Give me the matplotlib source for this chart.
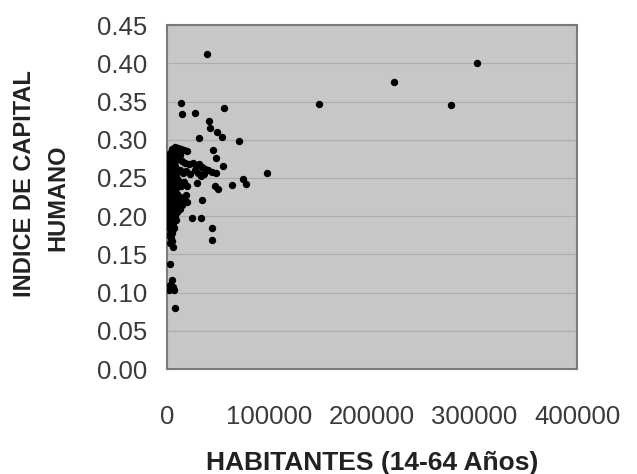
import matplotlib.pyplot as plt

plt.rcParams['font.family'] = ['Liberation Sans', 'DejaVu Sans']

# puntos aislados
x_out = [148600, 221500, 302700, 276800, 38700, 97300,
         13400, 14300, 27300, 55900, 41300, 42000, 48500, 53400, 31500, 70200,
         45200, 47800, 54900, 29000, 46800, 50000, 63100, 74400, 77100,
         33900, 24100, 32900, 44200, 44200, 47800]
y_out = [0.347, 0.375, 0.401, 0.345, 0.412, 0.256,
         0.348, 0.334, 0.335, 0.341, 0.325, 0.316, 0.310, 0.304, 0.302, 0.298,
         0.287, 0.276, 0.266, 0.244, 0.239, 0.236, 0.241, 0.248, 0.242,
         0.221, 0.198, 0.198, 0.185, 0.169, 0.256]

# nube densa cerca del origen
x_cl = [5000, 8000, 11000, 14000, 17000, 20000, 3000, 9500, 13000,
        2000, 4000, 6000, 9000, 12000, 15000, 18000, 22000, 25000, 28000, 31000, 34000, 37000, 40000,
        1500, 3500, 5500, 7500, 10000, 12500, 16000, 19000, 23000, 27000, 30000, 33000, 36000, 44000,
        2000, 4000, 6500, 8500, 11000, 13500, 17000, 20000, 1000, 3000, 5000, 7000, 9500,
        1500, 3500, 5500, 7500, 10000, 13000, 16000, 18500, 2500, 4500, 6500, 8500, 11500, 14500, 20000,
        1500, 3500, 5500, 7500, 10000, 12500, 2500, 4500, 6500, 8500, 3500, 6000,
        3000, 5000, 4000, 3000, 5500,
        2900, 4600, 3500, 5500, 2500, 6500, 7800,
        # relleno de la columna densa
        2500, 5000, 7500, 4000, 6500, 2000, 9000, 3500, 6000, 8000,
        2500, 5000, 7000, 4000, 1500, 6000, 3000, 5000, 7500, 4500,
        2000, 3500, 6500, 4500, 2500, 5000]
y_cl = [0.288, 0.290, 0.289, 0.288, 0.287, 0.285, 0.283, 0.283, 0.280,
        0.278, 0.275, 0.277, 0.274, 0.276, 0.272, 0.270, 0.268, 0.270, 0.266, 0.268, 0.264, 0.262, 0.260,
        0.265, 0.262, 0.260, 0.263, 0.258, 0.261, 0.256, 0.259, 0.255, 0.260, 0.257, 0.252, 0.255, 0.258,
        0.248, 0.245, 0.250, 0.244, 0.247, 0.240, 0.245, 0.240, 0.238, 0.236, 0.240, 0.235, 0.238,
        0.232, 0.228, 0.231, 0.226, 0.229, 0.225, 0.222, 0.228, 0.222, 0.218, 0.220, 0.216, 0.218, 0.215, 0.218,
        0.212, 0.209, 0.212, 0.207, 0.205, 0.210, 0.200, 0.197, 0.202, 0.195, 0.190, 0.188,
        0.183, 0.178, 0.172, 0.165, 0.160,
        0.137, 0.116, 0.110, 0.107, 0.104, 0.103, 0.080,
        0.270, 0.268, 0.266, 0.253, 0.254, 0.256, 0.251, 0.242, 0.243, 0.232,
        0.234, 0.225, 0.223, 0.214, 0.217, 0.216, 0.205, 0.206, 0.199, 0.193,
        0.194, 0.186, 0.184, 0.180, 0.175, 0.168]

xticks = [0, 100000, 200000, 300000, 400000]
yticks = [0.00, 0.05, 0.10, 0.15, 0.20, 0.25, 0.30, 0.35, 0.40, 0.45]

fig = plt.figure(figsize=(6.37, 4.74), dpi=100)
ax = fig.add_axes([0.262, 0.2215, 0.644, 0.7255])
ax.set_facecolor('#c7c7c7')

ax.plot(x_cl + x_out, y_cl + y_out, 'o', color='black', markersize=4.3, zorder=3)

ax.set_xlim(0, 400000)
ax.set_ylim(0, 0.45)
ax.set_xticks(xticks)
ax.set_xticklabels([str(v) for v in xticks])
ax.set_yticks(yticks)
ax.set_yticklabels(['%.2f' % v for v in yticks])
ax.tick_params(axis='both', length=0, labelsize=18.5, labelcolor='#3a3a3a')
ax.tick_params(axis='y', pad=14)
ax.tick_params(axis='x', pad=26)
ax.grid(axis='y', color='#adadad', linewidth=0.8)
ax.set_axisbelow(True)
for s in ax.spines.values():
    s.set_color('#7a7a7a')
    s.set_linewidth(1.5)

fig.text(25 / 637, 1 - 184 / 474, 'INDICE DE CAPITAL', rotation=90, ha='center', va='center',
         fontsize=17, fontweight='bold', color='#222222')
fig.text(58 / 637, 1 - 198 / 474, 'HUMANO', rotation=90, ha='center', va='center',
         fontsize=17, fontweight='bold', color='#222222')
fig.text(372 / 637, 1 - 463 / 474, 'HABITANTES (14-64 Años)', ha='center', va='center',
         fontsize=19, fontweight='bold', color='#222222')

fig.savefig('out.png', dpi=100)
